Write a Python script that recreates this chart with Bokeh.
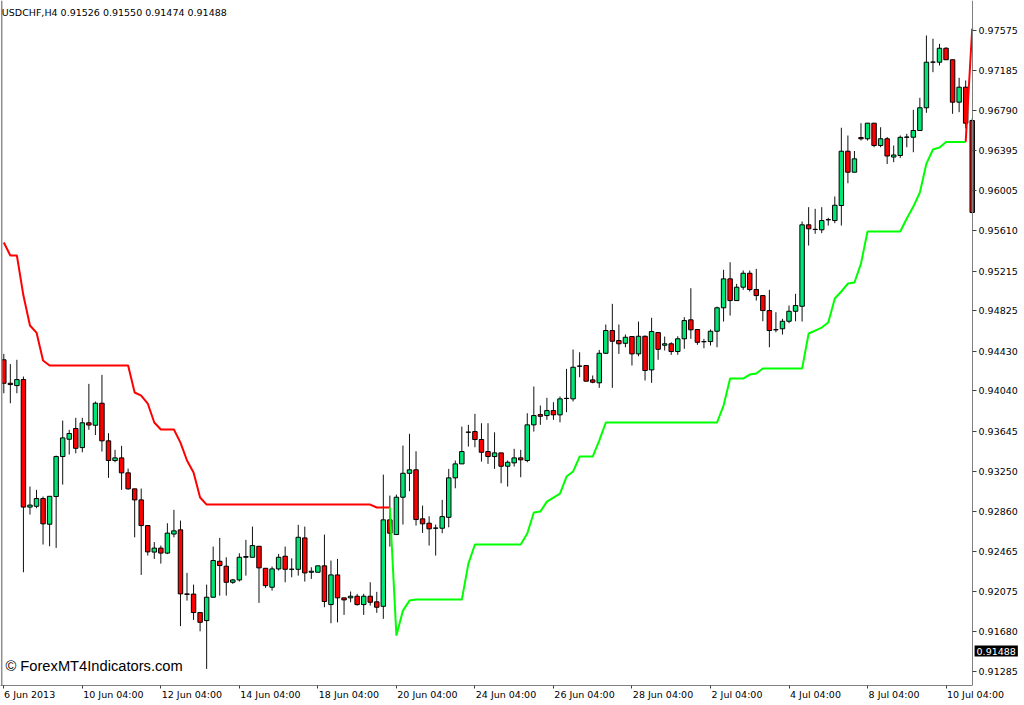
import math
from bokeh.plotting import figure
from bokeh.models import ColumnDataSource, Range1d, FixedTicker, Label, NumeralTickFormatter, Span
from bokeh.embed import file_html
from bokeh.resources import INLINE

# ---- USDCHF H4 candles (1st bar = 6 Jun 2013) ----
opens = [0.94345, 0.94115, 0.94092, 0.94151, 0.92900, 0.92908, 0.92984, 0.92732, 0.93004, 0.93396,
         0.93566, 0.93671, 0.93484, 0.93727, 0.93703, 0.93919, 0.93550, 0.93357, 0.93383, 0.93236,
         0.93079, 0.92971, 0.92719, 0.92459, 0.92498, 0.92449, 0.92636, 0.92677, 0.92049, 0.92047,
         0.91866, 0.91787, 0.92016, 0.92369, 0.92320, 0.92163, 0.92186, 0.92408, 0.92408, 0.92516,
         0.92300, 0.92114, 0.92294, 0.92418, 0.92290, 0.92290, 0.92598, 0.92261, 0.92261, 0.92324,
         0.91944, 0.92235, 0.92010, 0.92010, 0.92026, 0.91944, 0.92026, 0.91971, 0.91927, 0.92775,
         0.92631, 0.92997, 0.93232, 0.93266, 0.92785, 0.92742, 0.92693, 0.92693, 0.92800, 0.93187,
         0.93324, 0.93634, 0.93641, 0.93563, 0.93445, 0.93396, 0.93432, 0.93301, 0.93334, 0.93383,
         0.93357, 0.93707, 0.93808, 0.93798, 0.93847, 0.93805, 0.93965, 0.93962, 0.94282, 0.94289,
         0.94148, 0.94119, 0.94409, 0.94632, 0.94534, 0.94507, 0.94573, 0.94403, 0.94576, 0.94246,
         0.94612, 0.94488, 0.94502, 0.94426, 0.94551, 0.94737, 0.94642, 0.94524, 0.94524, 0.94625,
         0.94855, 0.95139, 0.94926, 0.95057, 0.95194, 0.95034, 0.94975, 0.94828, 0.94639, 0.94649,
         0.94723, 0.94821, 0.94870, 0.95669, 0.95623, 0.95620, 0.95718, 0.95711, 0.95858, 0.96391,
         0.96185, 0.96525, 0.96513, 0.96666, 0.96447, 0.96513, 0.96334, 0.96349, 0.96528, 0.96528,
         0.96594, 0.96817, 0.97264, 0.97264, 0.97401, 0.97288, 0.96872, 0.97019, 0.96692]

highs = [0.94403, 0.94303, 0.94345, 0.94181, 0.93102, 0.93069, 0.93004, 0.93006, 0.93406, 0.93749,
         0.93658, 0.93776, 0.93776, 0.94109, 0.93936, 0.94197, 0.93625, 0.93462, 0.93501, 0.93278,
         0.93079, 0.93082, 0.92719, 0.92557, 0.92523, 0.92742, 0.92873, 0.92768, 0.92255, 0.92140,
         0.91866, 0.92140, 0.92513, 0.92598, 0.92408, 0.92196, 0.92447, 0.92579, 0.92709, 0.92516,
         0.92300, 0.92317, 0.92441, 0.92513, 0.92398, 0.92726, 0.92709, 0.92310, 0.92324, 0.92631,
         0.92376, 0.92392, 0.92010, 0.92072, 0.92049, 0.92049, 0.92163, 0.92069, 0.93219, 0.93013,
         0.93023, 0.93504, 0.93619, 0.93448, 0.92915, 0.92810, 0.92729, 0.92971, 0.93275, 0.93357,
         0.93690, 0.93707, 0.93815, 0.93723, 0.93723, 0.93634, 0.93432, 0.93357, 0.93472, 0.93462,
         0.93821, 0.94083, 0.93896, 0.93972, 0.93929, 0.93985, 0.94256, 0.94446, 0.94419, 0.94289,
         0.94191, 0.94442, 0.94691, 0.94894, 0.94691, 0.94593, 0.94573, 0.94720, 0.94583, 0.94757,
         0.94612, 0.94573, 0.94517, 0.94576, 0.94763, 0.95047, 0.94642, 0.94551, 0.94642, 0.94867,
         0.95228, 0.95302, 0.95090, 0.95221, 0.95221, 0.95237, 0.94975, 0.95031, 0.94812, 0.94747,
         0.94877, 0.94992, 0.95701, 0.95842, 0.95826, 0.95842, 0.95738, 0.95947, 0.96621, 0.96545,
         0.96393, 0.96666, 0.96666, 0.96666, 0.96626, 0.96530, 0.96447, 0.96545, 0.96562, 0.96797,
         0.96915, 0.97526, 0.97494, 0.97444, 0.97411, 0.97288, 0.97111, 0.97085, 0.96712]

lows = [0.94017, 0.93919, 0.94017, 0.92261, 0.92827, 0.92889, 0.92533, 0.92516, 0.92500, 0.93121,
        0.93416, 0.93428, 0.93438, 0.93658, 0.93607, 0.93445, 0.93187, 0.93340, 0.93069, 0.93072,
        0.92604, 0.92235, 0.92425, 0.92392, 0.92346, 0.92439, 0.92604, 0.91733, 0.91983, 0.91794,
        0.91682, 0.91313, 0.92016, 0.92032, 0.92032, 0.92147, 0.92170, 0.92228, 0.92408, 0.91961,
        0.92108, 0.92081, 0.92278, 0.92163, 0.92212, 0.92228, 0.92170, 0.92196, 0.92261, 0.91918,
        0.91761, 0.91770, 0.91843, 0.91967, 0.91934, 0.91843, 0.91934, 0.91863, 0.91804, 0.92513,
        0.92631, 0.92729, 0.93056, 0.92719, 0.92647, 0.92523, 0.92425, 0.92644, 0.92702, 0.93085,
        0.93324, 0.93494, 0.93487, 0.93347, 0.93324, 0.93275, 0.93134, 0.93102, 0.93298, 0.93193,
        0.93340, 0.93641, 0.93707, 0.93756, 0.93756, 0.93732, 0.93831, 0.93936, 0.94174, 0.94135,
        0.94115, 0.94070, 0.94403, 0.94070, 0.94403, 0.94468, 0.94289, 0.94380, 0.94142, 0.94119,
        0.94345, 0.94436, 0.94394, 0.94394, 0.94453, 0.94551, 0.94492, 0.94458, 0.94485, 0.94468,
        0.94720, 0.94779, 0.94926, 0.95031, 0.95015, 0.94926, 0.94723, 0.94468, 0.94615, 0.94593,
        0.94704, 0.94723, 0.94720, 0.95466, 0.95581, 0.95587, 0.95662, 0.95685, 0.95662, 0.96077,
        0.96185, 0.96496, 0.96496, 0.96430, 0.96430, 0.96265, 0.96283, 0.96326, 0.96430, 0.96381,
        0.96594, 0.96768, 0.97166, 0.97232, 0.97288, 0.96758, 0.96774, 0.96614, 0.95780]

closes = [0.94115, 0.94102, 0.94151, 0.92900, 0.92920, 0.92984, 0.92736, 0.93006, 0.93396, 0.93579,
          0.93622, 0.93477, 0.93727, 0.93705, 0.93919, 0.93550, 0.93357, 0.93383, 0.93236, 0.93079,
          0.92971, 0.92719, 0.92461, 0.92498, 0.92449, 0.92645, 0.92667, 0.92049, 0.92044, 0.91866,
          0.91770, 0.92016, 0.92376, 0.92327, 0.92163, 0.92186, 0.92408, 0.92415, 0.92523, 0.92304,
          0.92130, 0.92294, 0.92408, 0.92290, 0.92291, 0.92604, 0.92255, 0.92271, 0.92324, 0.91974,
          0.92235, 0.92010, 0.91990, 0.92026, 0.91944, 0.92026, 0.91967, 0.91918, 0.92775, 0.92644,
          0.92997, 0.93232, 0.93266, 0.92778, 0.92736, 0.92687, 0.92695, 0.92807, 0.93187, 0.93324,
          0.93445, 0.93636, 0.93563, 0.93438, 0.93396, 0.93432, 0.93301, 0.93340, 0.93383, 0.93364,
          0.93707, 0.93798, 0.93791, 0.93847, 0.93805, 0.93962, 0.93967, 0.94272, 0.94284, 0.94135,
          0.94125, 0.94409, 0.94632, 0.94527, 0.94502, 0.94566, 0.94403, 0.94576, 0.94240, 0.94622,
          0.94448, 0.94502, 0.94426, 0.94551, 0.94730, 0.94639, 0.94517, 0.94522, 0.94625, 0.94855,
          0.95139, 0.94926, 0.95057, 0.95194, 0.95034, 0.94975, 0.94828, 0.94632, 0.94641, 0.94723,
          0.94821, 0.94877, 0.95669, 0.95630, 0.95625, 0.95711, 0.95720, 0.95861, 0.96391, 0.96185,
          0.96316, 0.96513, 0.96666, 0.96447, 0.96513, 0.96344, 0.96354, 0.96527, 0.96530, 0.96594,
          0.96817, 0.97264, 0.97266, 0.97401, 0.97288, 0.96872, 0.97019, 0.96666, 0.95790]

# ---- trend line (red = down buffer, green = up buffer), None = no value ----
trend_down = [0.95495, 0.95368, 0.95368, 0.94975, 0.94681, 0.94612, 0.94338, 0.94289, 0.94289, 0.94289,
              0.94289, 0.94289, 0.94289, 0.94289, 0.94289, 0.94289, 0.94289, 0.94289, 0.94289, 0.94289,
              0.94024, 0.93994, 0.93916, 0.93730, 0.93661, 0.93661, 0.93661, 0.93533, 0.93357, 0.93239,
              0.92994, 0.92925, 0.92925, 0.92925, 0.92925, 0.92925, 0.92925, 0.92925, 0.92925, 0.92925,
              0.92925, 0.92925, 0.92925, 0.92925, 0.92925, 0.92925, 0.92925, 0.92925, 0.92925, 0.92925,
              0.92925, 0.92925, 0.92925, 0.92925, 0.92925, 0.92925, 0.92925, 0.92896, 0.92896, 0.92896,
              None, None, None, None, None, None, None, None, None, None,
              None, None, None, None, None, None, None, None, None, None,
              None, None, None, None, None, None, None, None, None, None,
              None, None, None, None, None, None, None, None, None, None,
              None, None, None, None, None, None, None, None, None, None,
              None, None, None, None, None, None, None, None, None, None,
              None, None, None, None, None, None, None, None, None, None,
              None, None, None, None, None, None, None, None, None, None,
              None, None, None, None, None, None, None, 0.96481, 0.97595]

trend_up = [None, None, None, None, None, None, None, None, None, None,
            None, None, None, None, None, None, None, None, None, None,
            None, None, None, None, None, None, None, None, None, None,
            None, None, None, None, None, None, None, None, None, None,
            None, None, None, None, None, None, None, None, None, None,
            None, None, None, None, None, None, None, None, None, 0.92896,
            0.91640, 0.91885, 0.91983, 0.91993, 0.91993, 0.91993, 0.91993, 0.91993, 0.91993, 0.91993,
            0.91993, 0.92346, 0.92533, 0.92533, 0.92533, 0.92533, 0.92533, 0.92533, 0.92533, 0.92533,
            0.92641, 0.92847, 0.92856, 0.92954, 0.92994, 0.93033, 0.93200, 0.93249, 0.93396, 0.93396,
            0.93396, 0.93553, 0.93730, 0.93730, 0.93730, 0.93730, 0.93730, 0.93730, 0.93730, 0.93730,
            0.93730, 0.93730, 0.93730, 0.93730, 0.93730, 0.93730, 0.93730, 0.93730, 0.93730, 0.93730,
            0.93896, 0.94161, 0.94161, 0.94161, 0.94200, 0.94210, 0.94259, 0.94259, 0.94259, 0.94259,
            0.94259, 0.94259, 0.94259, 0.94603, 0.94632, 0.94661, 0.94711, 0.94946, 0.95015, 0.95093,
            0.95103, 0.95289, 0.95603, 0.95603, 0.95603, 0.95603, 0.95603, 0.95603, 0.95731, 0.95848,
            0.95986, 0.96270, 0.96408, 0.96427, 0.96481, 0.96481, 0.96481, 0.96481, None]

# ---- axis labels ----
price_ticks = [0.97575, 0.97185, 0.96790, 0.96395, 0.96005, 0.95610, 0.95215, 0.94825, 0.94430,
               0.94040, 0.93645, 0.93250, 0.92860, 0.92465, 0.92075, 0.91680, 0.91285]
date_tick_bars = [0, 12, 24, 36, 48, 60, 72, 84, 96, 108, 120, 132, 144]
date_labels = ["6 Jun 2013", "10 Jun 04:00", "12 Jun 04:00", "14 Jun 04:00", "18 Jun 04:00",
               "20 Jun 04:00", "24 Jun 04:00", "26 Jun 04:00", "28 Jun 04:00", "2 Jul 04:00",
               "4 Jul 04:00", "8 Jul 04:00", "10 Jul 04:00"]
# half label width (in bars) so that each date text starts just right of its tick, MT4 style
date_label_shift = [3.95, 4.75, 4.75, 4.75, 4.75, 4.75, 4.75, 4.75, 4.75, 4.05, 4.05, 4.05, 4.5]
title_text = "USDCHF,H4  0.91526 0.91550 0.91474 0.91488"
last_price = 0.91488

BULL = "#00E676"
BEAR = "#FF0000"

n = len(opens)
idx = list(range(n))
src = ColumnDataSource(dict(
    x=idx,
    high=highs,
    low=lows,
    top=[max(o, c) for o, c in zip(opens, closes)],
    bot=[min(o, c) for o, c in zip(opens, closes)],
    color=[BULL if c >= o else BEAR for o, c in zip(opens, closes)],
))

def nanify(v):
    return [float("nan") if a is None else a for a in v]

FONT = "DejaVu Sans"
BAR_PX = 6.5434          # horizontal distance between two bars, in pixels
X0 = -0.504              # data x at the left edge of the chart
PRICE_AXIS_X = 148.05    # data x where the price scale is drawn

p = figure(width=1024, height=705, output_backend="svg", toolbar_location=None,
           x_range=Range1d(X0, X0 + 1024 / BAR_PX), y_range=Range1d(0.911503, 0.978693),
           x_axis_location="below", y_axis_location="right",
           min_border_left=0, min_border_top=0, min_border_right=0, min_border_bottom=20,
           background_fill_color="white", border_fill_color="white")
p.grid.visible = False
p.outline_line_color = None

# thin window edge on the left
p.add_layout(Span(location=X0 + 1.2 / BAR_PX, dimension="height", line_color="#8c8c8c", line_width=1.5))

# wicks then bodies
p.segment(x0="x", y0="low", x1="x", y1="high", source=src, line_color="#111111", line_width=1)
p.vbar(x="x", width=0.68, top="top", bottom="bot", source=src,
       fill_color="color", line_color="black", line_width=1)

# trend lines
p.line(idx, nanify(trend_down), line_color="#FF0000", line_width=2)
p.line(idx, nanify(trend_up), line_color="#00FF00", line_width=2)

# bottom axis: minor ticks mark the bars, major (invisible) ticks carry the date texts
label_pos = [b + s for b, s in zip(date_tick_bars, date_label_shift)]
xa = p.xaxis[0]
xa.ticker = FixedTicker(ticks=label_pos, minor_ticks=date_tick_bars)
xa.major_label_overrides = {pos: t for pos, t in zip(label_pos, date_labels)}
xa.bounds = (X0, PRICE_AXIS_X)
xa.major_label_text_font = FONT
xa.major_label_text_font_size = "9.5px"
xa.major_label_text_color = "black"
xa.major_label_standoff = 0
xa.major_tick_line_color = None
xa.major_tick_out = 3
xa.major_tick_in = 0
xa.minor_tick_out = 3
xa.minor_tick_in = 0
xa.minor_tick_line_color = "#404040"
xa.axis_line_color = "#808080"

# price scale, drawn at the right edge of the bars
ya = p.yaxis[0]
ya.fixed_location = PRICE_AXIS_X
ya.ticker = FixedTicker(ticks=price_ticks)
ya.formatter = NumeralTickFormatter(format="0.00000")
ya.major_label_text_font = FONT
ya.major_label_text_font_size = "9.5px"
ya.major_label_text_color = "black"
ya.major_label_standoff = 2
ya.major_tick_out = 4
ya.major_tick_in = 0
ya.minor_tick_out = 0
ya.minor_tick_in = 0
ya.axis_line_color = "#808080"
ya.major_tick_line_color = "#404040"

# texts
p.add_layout(Label(x=-0.3, y=0.97752, text=title_text, text_font=FONT, text_font_size="9.5px",
                   text_color="black", text_baseline="middle"))
p.add_layout(Label(x=0.25, y=0.91346, text="\u00a9 ForexMT4Indicators.com", text_font="Liberation Sans",
                   text_font_size="14.7px", text_color="black", text_baseline="middle"))

box = Label(x=148.36, y=last_price, text="%.5f" % last_price, text_font=FONT,
            text_font_size="9.5px", text_color="white", text_baseline="middle",
            background_fill_color="black")
try:
    box.padding = 2
except Exception:
    pass
p.add_layout(box)

open("out.html", "w").write(file_html(p, INLINE))
